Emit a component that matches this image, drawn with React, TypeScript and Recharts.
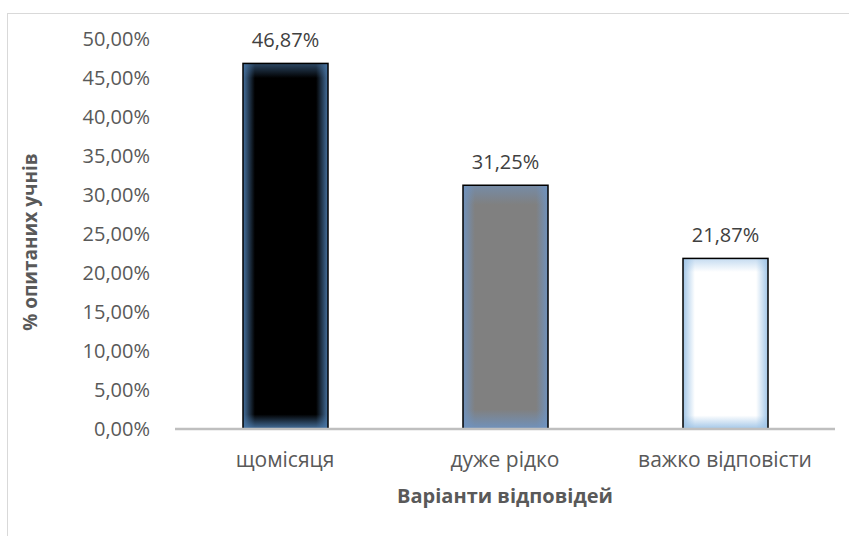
import React from "react";
import { BarChart, Bar, XAxis, YAxis, LabelList, Cell } from "recharts";

const categories = ["щомісяця", "дуже рідко", "важко відповісти"];
const shares = [46.87, 31.25, 21.87];
const yTicks = [0, 5, 10, 15, 20, 25, 30, 35, 40, 45, 50];

const baseFills = ["#000000", "#808080", "#ffffff"];
const glowColors = ["#4a78a8", "#6f93c0", "#9dc3e6"];

const data = categories.map((name, i) => ({ name, value: shares[i] }));

const fmt = (v: number) => `${Number(v).toFixed(2).replace(".", ",")}%`;

const FONT = '"Open Sans", sans-serif';
const TEXT = "#595959";

function GlowBar(props: any) {
  const { x, y, width, height, index } = props;
  if (!width || !height) return null;
  return (
    <g>
      <rect x={x} y={y} width={width} height={height} fill={baseFills[index]} />
      <rect x={x} y={y} width={width} height={height} fill={`url(#gh${index})`} />
      <rect x={x} y={y} width={width} height={height} fill={`url(#gv${index})`} />
      <rect x={x} y={y} width={width} height={height} fill="none" stroke="#000" strokeWidth={1.5} />
    </g>
  );
}

function YTitle(props: any) {
  const vb = props.viewBox || {};
  const cx = vb.x + 15;
  const cy = vb.y + vb.height / 2 + 8;
  return (
    <text
      x={cx}
      y={cy}
      transform={`rotate(-90 ${cx} ${cy})`}
      textAnchor="middle"
      dominantBaseline="central"
      fill={TEXT}
      fontSize={19}
      fontWeight="bold"
    >
      % опитаних учнів
    </text>
  );
}

export default function App() {
  return (
    <div style={{ position: "absolute", left: 0, top: 0, width: 849, height: 536, background: "#fff", overflow: "hidden" }}>
      <div
        style={{
          position: "absolute",
          left: 7,
          top: 13,
          width: 900,
          height: 600,
          borderLeft: "1px solid #d9d9d9",
          borderTop: "1px solid #d9d9d9",
        }}
      />
      <BarChart
        width={849}
        height={536}
        data={data}
        margin={{ top: 39, right: 14, bottom: 17, left: 15 }}
        style={{ position: "absolute", left: 0, top: 0, fontFamily: FONT }}
      >
        <defs>
          {glowColors.map((c, i) => (
            <linearGradient key={`h${i}`} id={`gh${i}`} x1="0" y1="0" x2="1" y2="0">
              <stop offset="0%" stopColor={c} stopOpacity={0.95} />
              <stop offset="14%" stopColor={c} stopOpacity={0} />
              <stop offset="86%" stopColor={c} stopOpacity={0} />
              <stop offset="100%" stopColor={c} stopOpacity={0.95} />
            </linearGradient>
          ))}
          {glowColors.map((c, i) => (
            <linearGradient key={`v${i}`} id={`gv${i}`} x1="0" y1="0" x2="0" y2="1">
              <stop offset="0%" stopColor={c} stopOpacity={0.6} />
              <stop offset={i === 0 ? "4%" : "8%"} stopColor={c} stopOpacity={0} />
              <stop offset={i === 0 ? "96%" : "92%"} stopColor={c} stopOpacity={0} />
              <stop offset="100%" stopColor={c} stopOpacity={0.95} />
            </linearGradient>
          ))}
        </defs>
        <XAxis
          dataKey="name"
          height={90}
          axisLine={{ stroke: "#bfbfbf", strokeWidth: 2.5 }}
          tickLine={false}
          tickSize={0}
          tickMargin={23}
          tick={{ fill: TEXT, fontSize: 21 }}
          label={{
            value: "Варіанти відповідей",
            position: "insideBottom",
            offset: 16,
            fill: TEXT,
            fontSize: 20,
            fontWeight: "bold",
          }}
        />
        <YAxis
          width={160}
          domain={[0, 50]}
          ticks={yTicks}
          tickFormatter={fmt}
          axisLine={false}
          tickLine={false}
          tickSize={0}
          tickMargin={25}
          tick={{ fill: TEXT, fontSize: 20 }}
          label={<YTitle />}
        />
        <Bar dataKey="value" barSize={85} shape={GlowBar} isAnimationActive={false}>
          {data.map((d, i) => (
            <Cell key={d.name} fill={baseFills[i]} />
          ))}
          <LabelList dataKey="value" position="top" offset={16} formatter={fmt} fill="#404040" fontSize={20} />
        </Bar>
      </BarChart>
    </div>
  );
}
